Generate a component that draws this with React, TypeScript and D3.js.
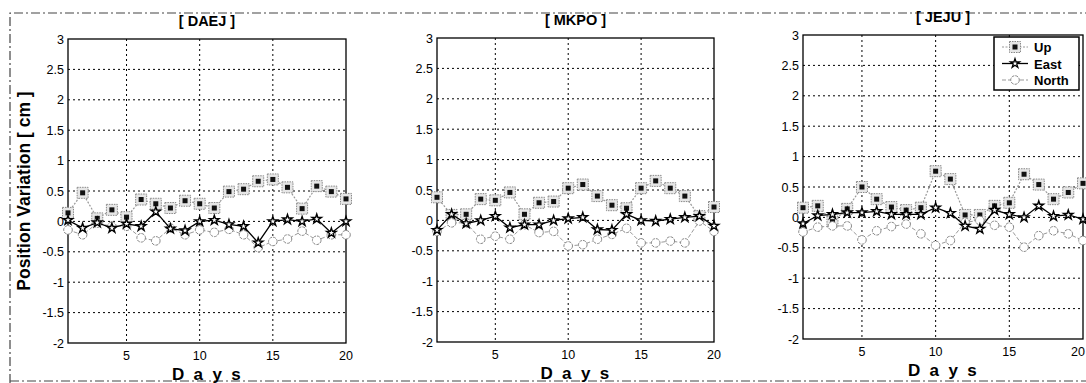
import * as d3 from "d3";
import { useEffect, useRef } from "react";

const days = d3.range(1, 21);
const yTicks = [-2, -1.5, -1, -0.5, 0, 0.5, 1, 1.5, 2, 2.5, 3];
const xTicks = [5, 10, 15, 20];
const stations = ["[ DAEJ ]", "[ MKPO ]", "[ JEJU ]"];
const seriesNames = ["Up", "East", "North"];

const daejUp = [0.14, 0.47, 0.05, 0.19, 0.07, 0.36, 0.29, 0.22, 0.34, 0.29, 0.22, 0.49, 0.53, 0.66, 0.69, 0.56, 0.21, 0.58, 0.49, 0.37];
const daejEast = [0.02, -0.11, -0.02, -0.11, -0.04, -0.08, 0.16, -0.12, -0.15, 0.0, 0.02, -0.05, -0.08, -0.35, 0.0, 0.03, 0.0, 0.04, -0.19, 0.0];
const daejNorth = [-0.14, -0.22, -0.03, -0.08, -0.08, -0.27, -0.32, -0.11, -0.22, -0.14, -0.18, -0.13, -0.22, -0.43, -0.33, -0.29, -0.16, -0.31, -0.22, -0.22];

const mkpoUp = [0.38, 0.09, 0.1, 0.35, 0.33, 0.46, 0.1, 0.29, 0.31, 0.53, 0.59, 0.4, 0.25, 0.2, 0.53, 0.65, 0.53, 0.4, 0.07, 0.22];
const mkpoEast = [-0.16, 0.1, -0.05, 0.0, 0.07, -0.12, -0.07, -0.07, 0.0, 0.03, 0.05, -0.15, -0.16, 0.1, 0.0, -0.01, 0.02, 0.05, 0.07, -0.09];
const mkpoNorth = [-0.18, -0.04, -0.04, -0.31, -0.26, -0.31, -0.07, -0.2, -0.18, -0.42, -0.4, -0.31, -0.23, -0.13, -0.37, -0.37, -0.34, -0.37, -0.01, -0.18];

const jejuUp = [0.16, 0.19, -0.07, 0.14, 0.5, 0.3, 0.17, 0.12, 0.16, 0.76, 0.63, 0.04, 0.04, 0.19, 0.24, 0.71, 0.54, 0.3, 0.41, 0.56];
const jejuEast = [-0.1, 0.03, 0.05, 0.08, 0.08, 0.1, 0.05, 0.05, 0.05, 0.16, 0.07, -0.14, -0.19, 0.12, 0.05, 0.0, 0.19, 0.02, 0.04, -0.03];
const jejuNorth = [-0.24, -0.16, -0.14, -0.14, -0.37, -0.22, -0.15, -0.11, -0.27, -0.46, -0.38, -0.08, -0.05, -0.13, -0.16, -0.49, -0.3, -0.22, -0.27, -0.38];

const panelData = [
  [daejUp, daejEast, daejNorth],
  [mkpoUp, mkpoEast, mkpoNorth],
  [jejuUp, jejuEast, jejuNorth],
];

// plot boxes as they sit in the scanned figure
const boxes = [
  { left: 68, right: 346, top: 39, bottom: 343 },
  { left: 437, right: 714, top: 38, bottom: 342 },
  { left: 803, right: 1083, top: 35, bottom: 339 },
];

const font = "Arial, 'Liberation Sans', sans-serif";
const fmt = (v: number) => String(v);

function App() {
  const svgRef = useRef<SVGSVGElement>(null);

  useEffect(() => {
    const svg = d3.select(svgRef.current);
    svg.selectAll("*").remove();

    // scanned page frame
    svg
      .append("path")
      .attr("d", "M10,383 L10,13 L1086,13 M10,381 L1086,381")
      .attr("fill", "none")
      .attr("stroke", "#444")
      .attr("stroke-width", 1.2)
      .attr("stroke-dasharray", "9 3 2 3");

    panelData.forEach((series, p) => {
      const b = boxes[p];
      const x = d3.scaleLinear().domain([1, 20]).range([b.left, b.right]);
      const y = d3.scaleLinear().domain([-2, 3]).range([b.bottom, b.top]);
      const g = svg.append("g");

      // grid
      g.selectAll(".gx")
        .data(xTicks.filter((t) => t < 20))
        .join("line")
        .attr("x1", (d) => x(d))
        .attr("x2", (d) => x(d))
        .attr("y1", b.top)
        .attr("y2", b.bottom)
        .attr("stroke", "#000")
        .attr("stroke-dasharray", "2 3");
      g.selectAll(".gy")
        .data(yTicks.filter((t) => t > -2 && t < 3))
        .join("line")
        .attr("x1", b.left)
        .attr("x2", b.right)
        .attr("y1", (d) => y(d))
        .attr("y2", (d) => y(d))
        .attr("stroke", "#000")
        .attr("stroke-dasharray", "2 3");

      g.append("rect")
        .attr("x", b.left)
        .attr("y", b.top)
        .attr("width", b.right - b.left)
        .attr("height", b.bottom - b.top)
        .attr("fill", "none")
        .attr("stroke", "#000")
        .attr("stroke-width", 1.3);

      // tick labels
      g.selectAll(".ty")
        .data(yTicks)
        .join("text")
        .attr("x", b.left - 4)
        .attr("y", (d) => y(d) + 4.5)
        .attr("text-anchor", "end")
        .attr("font-family", font)
        .attr("font-size", 12.5)
        .text((d) => fmt(d));
      g.selectAll(".tx")
        .data(xTicks)
        .join("text")
        .attr("x", (d) => Math.min(x(d), 1078))
        .attr("y", b.bottom + 17)
        .attr("text-anchor", "middle")
        .attr("font-family", font)
        .attr("font-size", 12.5)
        .text((d) => fmt(d));

      const cx = (b.left + b.right) / 2;
      g.append("text")
        .attr("x", cx)
        .attr("y", b.top - 13)
        .attr("text-anchor", "middle")
        .attr("font-family", font)
        .attr("font-weight", "bold")
        .attr("font-size", 14.5)
        .text(stations[p]);
      g.append("text")
        .attr("x", cx + 4)
        .attr("y", b.bottom + 37)
        .attr("text-anchor", "middle")
        .attr("font-family", font)
        .attr("font-weight", "bold")
        .attr("font-size", 17)
        .attr("letter-spacing", "0.55em")
        .text("Days");

      const line = d3
        .line<number>()
        .x((_, i) => x(days[i]))
        .y((d) => y(d));

      const [up, east, north] = series;

      // Up
      g.append("path")
        .attr("d", line(up))
        .attr("fill", "none")
        .attr("stroke", "#999")
        .attr("stroke-width", 1.2)
        .attr("stroke-dasharray", "2 1.5");
      g.selectAll(".up")
        .data(up)
        .join("rect")
        .attr("x", (_, i) => x(days[i]) - 5.5)
        .attr("y", (d) => y(d) - 5.5)
        .attr("width", 11)
        .attr("height", 11)
        .attr("fill", "#e6e6e6")
        .attr("stroke", "#888")
        .attr("stroke-dasharray", "1.5 1");
      g.selectAll(".upc")
        .data(up)
        .join("rect")
        .attr("x", (_, i) => x(days[i]) - 2.5)
        .attr("y", (d) => y(d) - 2.5)
        .attr("width", 5)
        .attr("height", 5)
        .attr("fill", "#111");

      // North
      g.append("path")
        .attr("d", line(north))
        .attr("fill", "none")
        .attr("stroke", "#999")
        .attr("stroke-width", 1)
        .attr("stroke-dasharray", "4 2");
      g.selectAll(".no")
        .data(north)
        .join("circle")
        .attr("cx", (_, i) => x(days[i]))
        .attr("cy", (d) => y(d))
        .attr("r", 4.3)
        .attr("fill", "#fff")
        .attr("stroke", "#888")
        .attr("stroke-dasharray", "3 1");

      // East
      g.append("path")
        .attr("d", line(east))
        .attr("fill", "none")
        .attr("stroke", "#000")
        .attr("stroke-width", 1.3);
      const star = d3.symbol().type(d3.symbolStar).size(28);
      g.selectAll(".ea")
        .data(east)
        .join("path")
        .attr("d", star())
        .attr("transform", (d, i) => `translate(${x(days[i])},${y(d)})`)
        .attr("fill", "#fff")
        .attr("stroke", "#000")
        .attr("stroke-width", 1.4);
    });

    // y axis title
    svg
      .append("text")
      .attr("transform", `translate(30,${(boxes[0].top + boxes[0].bottom) / 2}) rotate(-90)`)
      .attr("text-anchor", "middle")
      .attr("font-family", font)
      .attr("font-weight", "bold")
      .attr("font-size", 17.5)
      .text("Position Variation [ cm ]");

    // legend
    const lg = svg.append("g").attr("transform", "translate(994,37)");
    lg.append("rect")
      .attr("width", 85)
      .attr("height", 53)
      .attr("fill", "#fff")
      .attr("stroke", "#000")
      .attr("stroke-width", 1.5);
    seriesNames.forEach((name, i) => {
      const ly = 10 + i * 16.5;
      const row = lg.append("g").attr("transform", `translate(0,${ly})`);
      row.append("line")
        .attr("x1", 8)
        .attr("x2", 34)
        .attr("stroke", i === 1 ? "#000" : "#999")
        .attr("stroke-width", i === 1 ? 1.3 : 1)
        .attr("stroke-dasharray", i === 0 ? "2 1.5" : i === 2 ? "4 2" : null);
      if (i === 0) {
        row.append("rect").attr("x", 15.5).attr("y", -5.5).attr("width", 11).attr("height", 11)
          .attr("fill", "#e6e6e6").attr("stroke", "#888").attr("stroke-dasharray", "1.5 1");
        row.append("rect").attr("x", 18.5).attr("y", -2.5).attr("width", 5).attr("height", 5).attr("fill", "#111");
      } else if (i === 1) {
        row.append("path").attr("d", d3.symbol().type(d3.symbolStar).size(26)())
          .attr("transform", "translate(21,0)").attr("fill", "#fff").attr("stroke", "#000").attr("stroke-width", 1.3);
      } else {
        row.append("circle").attr("cx", 21).attr("r", 4.3).attr("fill", "#fff")
          .attr("stroke", "#888").attr("stroke-dasharray", "3 1");
      }
      row.append("text")
        .attr("x", 40)
        .attr("y", 5)
        .attr("font-family", font)
        .attr("font-weight", "bold")
        .attr("font-size", 13)
        .text(name);
    });
  }, []);

  return (
    <svg
      ref={svgRef}
      width={1086}
      height={383}
      style={{ position: "absolute", left: 0, top: 0, background: "#fff" }}
    />
  );
}

export default App;
